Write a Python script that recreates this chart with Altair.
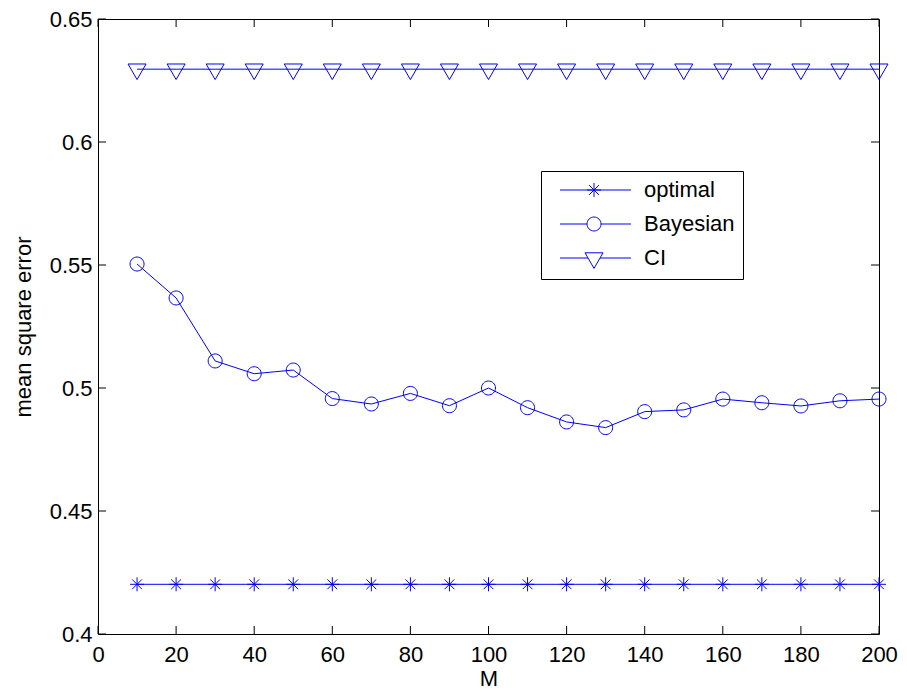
import altair as alt
import pandas as pd

# ---- data ----
M = [10, 20, 30, 40, 50, 60, 70, 80, 90, 100,
     110, 120, 130, 140, 150, 160, 170, 180, 190, 200]
optimal = [0.4202, 0.4202, 0.4202, 0.4202, 0.4202, 0.4202, 0.4202, 0.4202, 0.4202, 0.4202,
           0.4202, 0.4202, 0.4202, 0.4202, 0.4202, 0.4202, 0.4202, 0.4202, 0.4202, 0.4202]
bayesian = [0.5504, 0.5366, 0.5110, 0.5058, 0.5073, 0.4957, 0.4935, 0.4978, 0.4928, 0.5000,
            0.4920, 0.4862, 0.4839, 0.4904, 0.4911, 0.4955, 0.4940, 0.4927, 0.4948, 0.4955]
ci = [0.6296, 0.6296, 0.6296, 0.6296, 0.6296, 0.6296, 0.6296, 0.6296, 0.6296, 0.6296,
      0.6296, 0.6296, 0.6296, 0.6296, 0.6296, 0.6296, 0.6296, 0.6296, 0.6296, 0.6296]
series_names = ["optimal", "Bayesian", "CI"]
x_ticks = [0, 20, 40, 60, 80, 100, 120, 140, 160, 180, 200]
y_ticks = [0.4, 0.45, 0.5, 0.55, 0.6, 0.65]

rows = []
for name, vals in zip(series_names, [optimal, bayesian, ci]):
    for m, v in zip(M, vals):
        rows.append({"M": m, "value": v, "series": name})
df = pd.DataFrame(rows)
xt = pd.DataFrame({"M": x_ticks})
yt = pd.DataFrame({"value": y_ticks})

W, H = 781, 615
FONT = "Liberation Sans"
BLUE = "#0000ff"
TL = 8  # tick length

# marker shapes (unit = 7px at size 196)
star = "M0,-1V1M-1,0H1M-0.7,-0.7L0.7,0.7M-0.7,0.7L0.7,-0.7"
circ = "M1,0A1,1 0 1,1 -1,0A1,1 0 1,1 1,0"
tri = "M0,1.485L-1.286,-0.742L1.286,-0.742Z"
# legend symbols: line + marker
lg_star = "M0,0H10.14M4.86,-1V1M3.86,0H5.86M4.16,-0.7L5.56,0.7M4.16,0.7L5.56,-0.7"
lg_circ = "M0,0H3.86M5.86,0H10.14M5.86,0A1,1 0 1,1 3.86,0A1,1 0 1,1 5.86,0"
lg_tri = "M0,0H4.0M5.72,0H10.14M4.86,1.485L3.574,-0.742L6.146,-0.742Z"

x_scale = alt.Scale(domain=[0, 200], nice=False, zero=False)
y_scale = alt.Scale(domain=[0.4, 0.65], nice=False, zero=False)
x_axis = alt.Axis(values=x_ticks, title="M", domain=False, ticks=False, grid=False,
                  labelFontSize=22, labelFont=FONT, labelColor="black", labelPadding=10,
                  labelFlush=False, labelOverlap=False,
                  titleFontSize=22, titleFont=FONT, titleFontWeight="normal",
                  titleColor="black", titlePadding=3)
y_axis = alt.Axis(values=y_ticks, format="~g", title="mean square error", domain=False,
                  ticks=False, grid=False, labelFontSize=22, labelFont=FONT,
                  labelColor="black", labelPadding=6, labelFlush=False, labelOverlap=False,
                  titleFontSize=22, titleFont=FONT, titleFontWeight="normal",
                  titleColor="black", titlePadding=14)


def X(field="M"):
    return alt.X(f"{field}:Q", scale=x_scale, axis=x_axis)


def Y(field="value"):
    return alt.Y(f"{field}:Q", scale=y_scale, axis=y_axis)


base = alt.Chart(df)
lines = base.mark_line(color=BLUE, strokeWidth=1).encode(x=X(), y=Y(), detail="series:N")
points = base.mark_point(filled=False, color=BLUE, strokeWidth=1, size=196, opacity=1).encode(
    x=X(), y=Y(),
    shape=alt.Shape("series:N", scale=alt.Scale(domain=series_names, range=[star, circ, tri]),
                    legend=None),
)
legend_layer = base.mark_point(filled=False, color=BLUE, size=196, opacity=0).encode(
    x=X(), y=Y(),
    shape=alt.Shape("series:N",
                    scale=alt.Scale(domain=series_names, range=[lg_star, lg_circ, lg_tri]),
                    legend=alt.Legend(title=None, orient="none", legendX=443, legendY=152,
                                      padding=8, strokeColor="black", fillColor="white",
                                      cornerRadius=0, labelFont=FONT, labelFontSize=22,
                                      labelColor="black", labelOffset=73, rowPadding=12,
                                      symbolSize=196, symbolStrokeWidth=1,
                                      symbolStrokeColor=BLUE, symbolFillColor="transparent",
                                      symbolOpacity=1, labelLimit=300)),
)

tick_b = alt.Chart(xt).mark_rule(color="black", strokeWidth=1).encode(
    x=X(), y=alt.value(H), y2=alt.value(H - TL))
tick_t = alt.Chart(xt).mark_rule(color="black", strokeWidth=1).encode(
    x=X(), y=alt.value(0), y2=alt.value(TL))
tick_l = alt.Chart(yt).mark_rule(color="black", strokeWidth=1).encode(
    y=Y(), x=alt.value(0), x2=alt.value(TL))
tick_r = alt.Chart(yt).mark_rule(color="black", strokeWidth=1).encode(
    y=Y(), x=alt.value(W), x2=alt.value(W - TL))

chart = alt.layer(lines, points, legend_layer, tick_b, tick_t, tick_l, tick_r).resolve_scale(
    shape="independent"
).properties(
    width=W, height=H,
    autosize=alt.AutoSizeParams(type="none"),
    padding={"left": 90, "top": 11, "right": 20, "bottom": 60},
    background="white",
).configure_view(stroke="black", strokeWidth=1)

chart.save("out.html", embed_options={"renderer": "svg", "actions": False})
